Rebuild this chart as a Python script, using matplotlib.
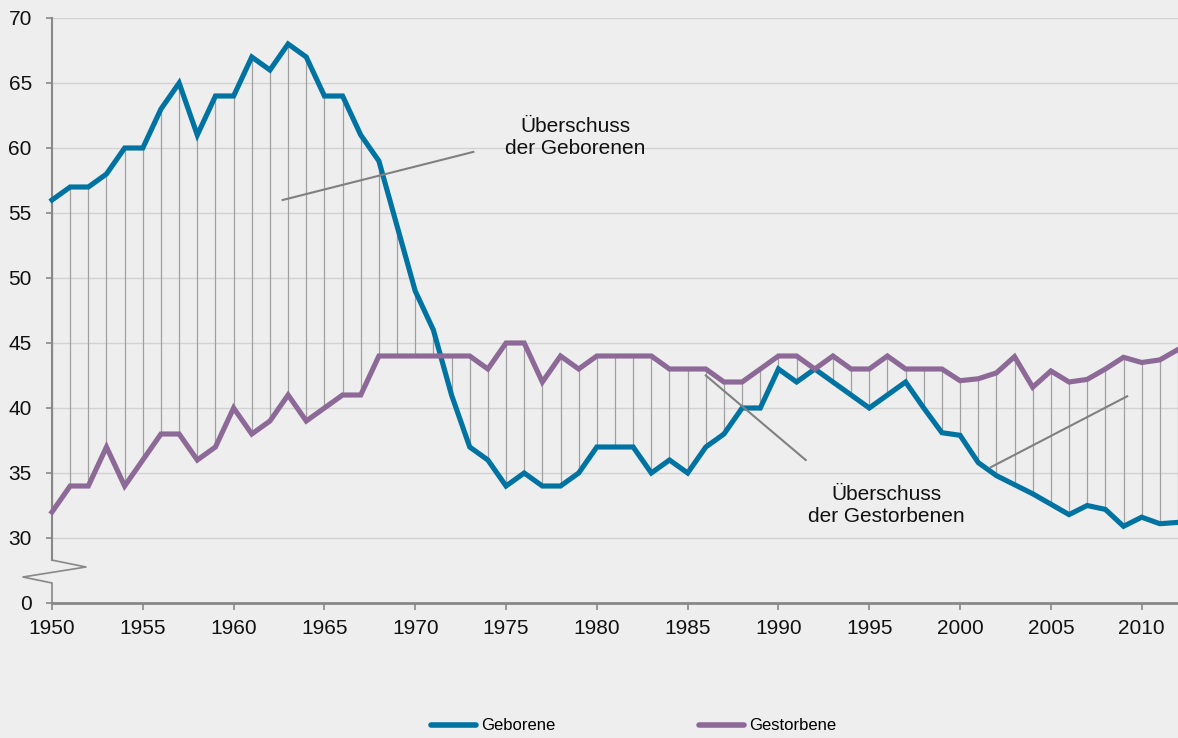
import matplotlib
matplotlib.use('Agg')
import matplotlib.pyplot as plt
from matplotlib.lines import Line2D

plt.rcParams['font.family'] = ['Liberation Sans', 'DejaVu Sans']

# Daten (je 1000 / Jahr)
jahre = list(range(1950, 2013))
geborene = [56, 57, 57, 58, 60, 60, 63, 65, 61, 64,
            64, 67, 66, 68, 67, 64, 64, 61, 59, 54,
            49, 46, 41, 37, 36, 34, 35, 34, 34, 35,
            37, 37, 37, 35, 36, 35, 37, 38, 40, 40,
            43, 42, 43, 42, 41, 40, 41, 42, 40, 38.1,
            37.9, 35.8, 34.8, 34.1, 33.4, 32.6, 31.8, 32.5, 32.2, 30.9,
            31.6, 31.1, 31.2]
gestorbene = [32, 34, 34, 37, 34, 36, 38, 38, 36, 37,
              40, 38, 39, 41, 39, 40, 41, 41, 44, 44,
              44, 44, 44, 44, 43, 45, 45, 42, 44, 43,
              44, 44, 44, 44, 43, 43, 43, 42, 42, 43,
              44, 44, 43, 44, 43, 43, 44, 43, 43, 43,
              42.1, 42.25, 42.7, 43.95, 41.6, 42.85, 42.0, 42.2, 43.0, 43.9,
              43.5, 43.7, 44.5]

ytick_werte = [25, 30, 35, 40, 45, 50, 55, 60, 65, 70]
ytick_labels = ['0', '30', '35', '40', '45', '50', '55', '60', '65', '70']
xtick_werte = [1950, 1955, 1960, 1965, 1970, 1975, 1980, 1985, 1990, 1995, 2000, 2005, 2010]

bg = '#edeeed'
blau = '#0073a3'
lila = '#8d6998'

fig = plt.figure(figsize=(11.78, 7.38), dpi=100, facecolor=bg)
ax = fig.add_axes([52 / 1178, 1 - 603 / 738, 1 - 52 / 1178, (603 - 18) / 738])
ax.set_facecolor(bg)

# Verbindungslinien zwischen beiden Reihen
unten = [min(a, b) for a, b in zip(geborene, gestorbene)]
oben = [max(a, b) for a, b in zip(geborene, gestorbene)]
ax.vlines(jahre, unten, oben, colors='#a0a0a0', linewidth=0.9, zorder=2)

ax.plot(jahre, geborene, color=blau, linewidth=3.7, zorder=4, clip_on=False,
        solid_joinstyle='miter')
ax.plot(jahre, gestorbene, color=lila, linewidth=3.7, zorder=4, clip_on=False,
        solid_joinstyle='miter')

ax.set_xlim(1950, 2012)
ax.set_ylim(25, 70)
ax.set_yticks(ytick_werte)
ax.set_yticklabels(ytick_labels)
ax.set_xticks(xtick_werte)
ax.tick_params(axis='both', labelsize=15, colors='#888888', labelcolor='#111111',
               width=1.2, direction='out')
ax.tick_params(axis='y', length=4.5, pad=10)
ax.tick_params(axis='x', length=5, pad=6.5)

for y in ytick_werte[1:]:
    ax.axhline(y, color='#d2d2d2', linewidth=1.0, zorder=1)

for s in ['top', 'right']:
    ax.spines[s].set_visible(False)
ax.spines['bottom'].set_color('#888888')
ax.spines['bottom'].set_linewidth(2)
ax.spines['left'].set_color('#888888')
ax.spines['left'].set_linewidth(1.5)
ax.spines['left'].set_bounds(28.3, 70)

# Achsenbruch
tr = ax.get_yaxis_transform()
ax.plot([0, 0.0302, -0.0258, 0, 0], [28.3, 27.77, 27.0, 26.54, 25],
        transform=tr, color='#888888', linewidth=1.2, clip_on=False, zorder=3)

# Beschriftungen
ax.plot([1962.7, 1973.2], [56.0, 59.7], color='#808080', linewidth=1.5, zorder=5)
ax.plot([1986.0, 1991.5], [42.5, 36.0], color='#808080', linewidth=1.5, zorder=5)
ax.plot([2001.7, 2009.2], [35.45, 40.9], color='#808080', linewidth=1.5, zorder=5)
ax.text(1978.8, 60.8, 'Überschuss\nder Geborenen', ha='center', va='center',
        fontsize=15, color='#111111', linespacing=1.15)
ax.text(1995.95, 32.5, 'Überschuss\nder Gestorbenen', ha='center', va='center',
        fontsize=15, color='#111111', linespacing=1.15)

handles = [Line2D([], [], color=blau, linewidth=4, solid_capstyle='round'),
           Line2D([], [], color=lila, linewidth=4, solid_capstyle='round')]
fig.legend(handles, ['Geborene', 'Gestorbene'], loc='center',
           bbox_to_anchor=(0.538, 0.0163), ncol=2, frameon=False, fontsize=12,
           handlelength=2.7, handletextpad=0.3, columnspacing=8.6, borderpad=0)

fig.savefig('out.png', dpi=100, facecolor=bg)
